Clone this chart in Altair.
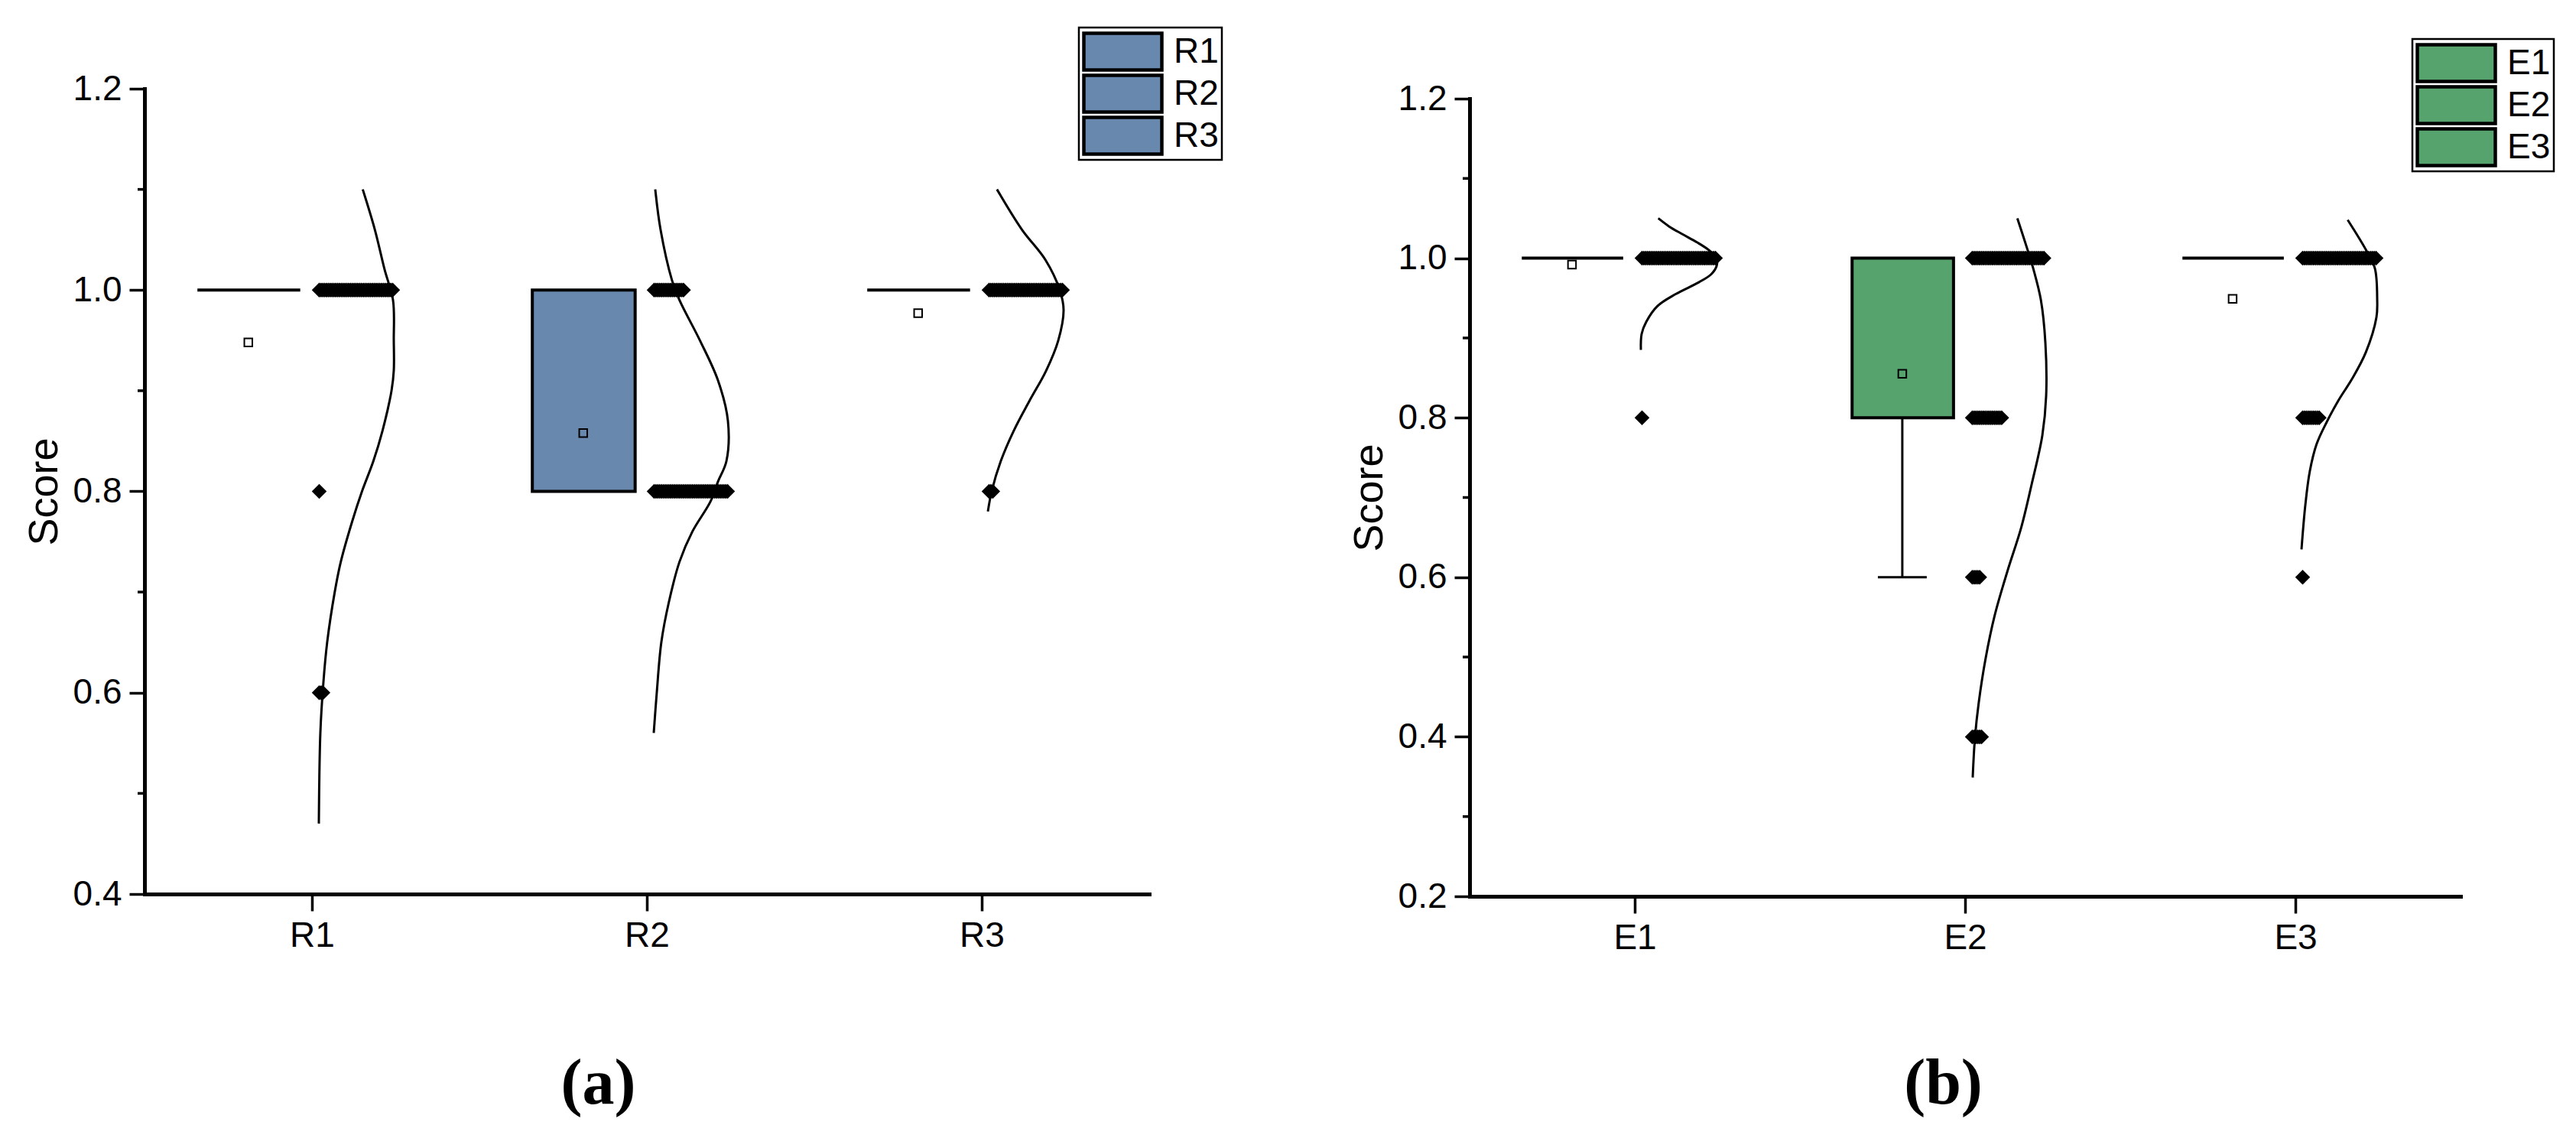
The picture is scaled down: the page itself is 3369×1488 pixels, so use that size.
import altair as alt
import pandas as pd

# ------------------------------------------------------------------ data
R_groups = ["R1", "R2", "R3"]
E_groups = ["E1", "E2", "E3"]

# box statistics (Q1, Q3)
R_q1 = [1.0, 0.8, 1.0]
R_q3 = [1.0, 1.0, 1.0]
E_q1 = [1.0, 0.8, 1.0]
E_q3 = [1.0, 1.0, 1.0]

# whiskers (only E2 shows one)
R_whisker_group = []
R_whisker_low = []
R_whisker_high = []
E_whisker_group = ["E2"]
E_whisker_low = [0.6]
E_whisker_high = [0.8]

# means (hollow squares)
R_mean = [0.948, 0.858, 0.977]
E_mean = [0.992, 0.855, 0.949]

# raw scores: number of respondents at each score level
score_levels = [1.0, 0.8, 0.6, 0.4]
R_counts = [[41, 1, 3, 0], [17, 41, 0, 0], [41, 3, 0, 0]]
E_counts = [[41, 1, 0, 0], [40, 17, 5, 6], [41, 10, 1, 0]]

# distribution curves: score and relative density
R1_curve_score = [1.10, 1.06, 1.02, 0.99, 0.95, 0.92, 0.90, 0.86, 0.83, 0.80, 0.77, 0.73, 0.70, 0.65, 0.61, 0.56, 0.47]
R1_curve_dens = [0.59, 0.75, 0.88, 0.99, 1.00, 1.00, 0.97, 0.85, 0.73, 0.58, 0.45, 0.30, 0.22, 0.12, 0.07, 0.03, 0.01]
R2_curve_score = [1.10, 1.06, 1.01, 0.99, 0.95, 0.91, 0.87, 0.83, 0.81, 0.79, 0.76, 0.73, 0.69, 0.65, 0.60, 0.56]
R2_curve_dens = [0.03, 0.10, 0.25, 0.35, 0.62, 0.86, 0.99, 0.97, 0.86, 0.76, 0.52, 0.35, 0.21, 0.11, 0.05, 0.01]
R3_curve_score = [1.10, 1.06, 1.03, 1.00, 0.98, 0.95, 0.92, 0.89, 0.86, 0.83, 0.80, 0.78]
R3_curve_dens = [0.12, 0.45, 0.76, 0.95, 1.00, 0.93, 0.77, 0.55, 0.34, 0.17, 0.05, 0.00]
E1_curve_score = [1.05, 1.04, 1.03, 1.02, 1.01, 1.00, 0.99, 0.98, 0.97, 0.955, 0.94, 0.92, 0.905, 0.885]
E1_curve_dens = [0.23, 0.37, 0.55, 0.74, 0.90, 1.00, 1.00, 0.93, 0.77, 0.46, 0.22, 0.07, 0.01, 0.00]
E2_curve_score = [1.05, 1.006, 0.987, 0.948, 0.894, 0.827, 0.778, 0.717, 0.662, 0.608, 0.552, 0.498, 0.443, 0.399, 0.349]
E2_curve_dens = [0.61, 0.76, 0.82, 0.92, 0.98, 0.99, 0.94, 0.80, 0.66, 0.48, 0.31, 0.19, 0.10, 0.05, 0.02]
E3_curve_score = [1.048, 1.009, 0.987, 0.948, 0.926, 0.882, 0.849, 0.822, 0.794, 0.767, 0.733, 0.690, 0.635]
E3_curve_dens = [0.61, 0.86, 0.97, 1.00, 0.99, 0.85, 0.67, 0.49, 0.33, 0.20, 0.11, 0.05, 0.00]

# axis tick values
R_major = [0.4, 0.6, 0.8, 1.0, 1.2]
R_minor = [0.5, 0.7, 0.9, 1.1]
E_major = [0.2, 0.4, 0.6, 0.8, 1.0, 1.2]
E_minor = [0.3, 0.5, 0.7, 0.9, 1.1]

# ------------------------------------------------------------------ style
FONT = "Liberation Sans"
SERIF = "Liberation Serif"
R_FILL = "#6888AE"
E_FILL = "#56A36E"
DOT_START = 9.5     # px from category tick to first dot centre
DOT_STEP = 2.4      # px between stacked dots
CURVE_BASE = 8      # px baseline of distribution curve
CURVE_AMP = 99      # px width of the curve at max density
BOX_LEFT, BOX_RIGHT, BOX_CENTER, CAP_HALF = -0.342, -0.035, -0.19, 0.074


def panel(groups, fill, q1, q3, means, counts, curves, whiskers, ydomain,
          major, minor, width, height, yrange, legend_xy, title, title_xy):
    ppu = width / 3.0
    cats = [i + 1 for i in range(len(groups))]

    yscale = alt.Scale(domain=ydomain, nice=False, zero=False)
    if yrange is not None:
        yscale = alt.Scale(domain=ydomain, nice=False, zero=False, range=yrange)
    xscale = alt.Scale(domain=[0.5, 3.5], nice=False, zero=False)

    label_expr = "[''," + ",".join("'%s'" % g for g in groups) + "][datum.value]"
    xaxis = alt.Axis(values=cats, labelExpr=label_expr, tickSize=22, tickWidth=3.5,
                     tickColor="black", domainColor="black", domainWidth=5,
                     domainCap="square", labelFont=FONT, labelFontSize=46,
                     labelColor="black", labelPadding=10, labelFlush=False,
                     grid=False, title=title, titleFont=SERIF, titleFontSize=84,
                     titleFontWeight="bold", titleColor="black", titleX=title_xy[0],
                     titleY=title_xy[1], titleAlign="center", titleBaseline="alphabetic",
                     titleAngle=0)
    yaxis = alt.Axis(values=major, format=".1f", tickSize=20, tickWidth=3.5,
                     tickColor="black", domainColor="black", domainWidth=5,
                     domainCap="square", labelFont=FONT, labelFontSize=46,
                     labelColor="black", labelPadding=10, labelFlush=False,
                     grid=False, title="Score", titleFont=FONT, titleFontSize=54,
                     titleFontWeight="normal", titleColor="black", titlePadding=10)

    def X(f):
        return alt.X(f, type="quantitative", scale=xscale, axis=xaxis)

    def Y(f):
        return alt.Y(f, type="quantitative", scale=yscale, axis=yaxis)

    layers = []

    box_df = pd.DataFrame({"group": groups,
                           "x": [k + BOX_LEFT for k in cats],
                           "x2": [k + BOX_RIGHT for k in cats],
                           "q1": q1, "q3": q3})
    legend = alt.Legend(orient="none", legendX=legend_xy[0], legendY=legend_xy[1],
                        title=None, symbolType="M-1,-0.47H1V0.47H-1Z",
                        symbolSize=102 * 102, symbolStrokeColor="black",
                        symbolStrokeWidth=4.5, symbolOpacity=1, clipHeight=55,
                        rowPadding=0, labelOffset=13, labelFont=FONT,
                        labelFontSize=46, labelColor="black", padding=4,
                        strokeColor="black")
    layers.append(alt.Chart(box_df).mark_rect(stroke="black", strokeWidth=4).encode(
        x=X("x"), x2=alt.X2("x2"), y=Y("q1"), y2=alt.Y2("q3"),
        color=alt.Color("group:N", scale=alt.Scale(domain=groups, range=[fill] * 3),
                        legend=legend)))

    wg, wl, wh = whiskers
    if wg:
        wx = [cats[groups.index(g)] + BOX_CENTER for g in wg]
        w_df = pd.DataFrame({"x": wx, "xa": [v - CAP_HALF for v in wx],
                             "xb": [v + CAP_HALF for v in wx], "low": wl, "high": wh})
        layers.append(alt.Chart(w_df).mark_rule(color="black", strokeWidth=3).encode(
            x=X("x"), y=Y("low"), y2=alt.Y2("high")))
        layers.append(alt.Chart(w_df).mark_rule(color="black", strokeWidth=3).encode(
            x=X("xa"), x2=alt.X2("xb"), y=Y("low")))

    minor_df = pd.DataFrame({"v": minor})
    layers.append(alt.Chart(minor_df).mark_rule(color="black", strokeWidth=3.5).encode(
        y=Y("v"), x=alt.value(0), x2=alt.value(-9)))

    mean_df = pd.DataFrame({"x": [k + BOX_CENTER for k in cats], "m": means})
    layers.append(alt.Chart(mean_df).mark_point(shape="square", size=110, filled=False,
                                                 color="black", strokeWidth=2, opacity=1).encode(
        x=X("x"), y=Y("m")))

    rows = []
    for k, g, cnt in zip(cats, groups, counts):
        for lvl, c in zip(score_levels, cnt):
            for i in range(c):
                rows.append({"group": g, "s": lvl,
                             "x": k + (DOT_START + i * DOT_STEP) / ppu})
    dots_df = pd.DataFrame(rows)
    layers.append(alt.Chart(dots_df).mark_point(shape="diamond", size=380, filled=True,
                                                 color="black", opacity=1).encode(
        x=X("x"), y=Y("s")))

    crow = []
    for k, g, (cs, cd) in zip(cats, groups, curves):
        for j, (s, d) in enumerate(zip(cs, cd)):
            crow.append({"group": g, "s": s, "seq": j,
                         "x": k + (CURVE_BASE + d * CURVE_AMP) / ppu})
    curve_df = pd.DataFrame(crow)
    layers.append(alt.Chart(curve_df).mark_line(color="black", strokeWidth=3,
                                                 interpolate="catmull-rom").encode(
        x=X("x"), y=Y("s"), detail="group:N", order="seq:Q"))

    return alt.layer(*layers).properties(width=width, height=height)


left = panel(R_groups, R_FILL, R_q1, R_q3, R_mean, R_counts,
             [(R1_curve_score, R1_curve_dens), (R2_curve_score, R2_curve_dens),
              (R3_curve_score, R3_curve_dens)],
             (R_whisker_group, R_whisker_low, R_whisker_high),
             [0.4, 1.2], R_major, R_minor, 1314, 1053, None,
             (1222, -80), "(a)", (593, 273))

right = panel(E_groups, E_FILL, E_q1, E_q3, E_mean, E_counts,
              [(E1_curve_score, E1_curve_dens), (E2_curve_score, E2_curve_dens),
               (E3_curve_score, E3_curve_dens)],
              (E_whisker_group, E_whisker_low, E_whisker_high),
              [0.2, 1.2], E_major, E_minor, 1296, 1056, [1056, 13],
              (1233, -65), "(b)", (619, 270))

chart = (alt.hconcat(left, right, spacing=419, bounds="flush")
         .resolve_scale(color="independent")
         .properties(padding={"left": 23, "top": 26, "right": 10, "bottom": 10},
                     background="white")
         .configure_view(stroke=None)
         .configure_legend(strokeWidth=2.5))

chart.save("out.html", embed_options={"renderer": "svg", "actions": False})
